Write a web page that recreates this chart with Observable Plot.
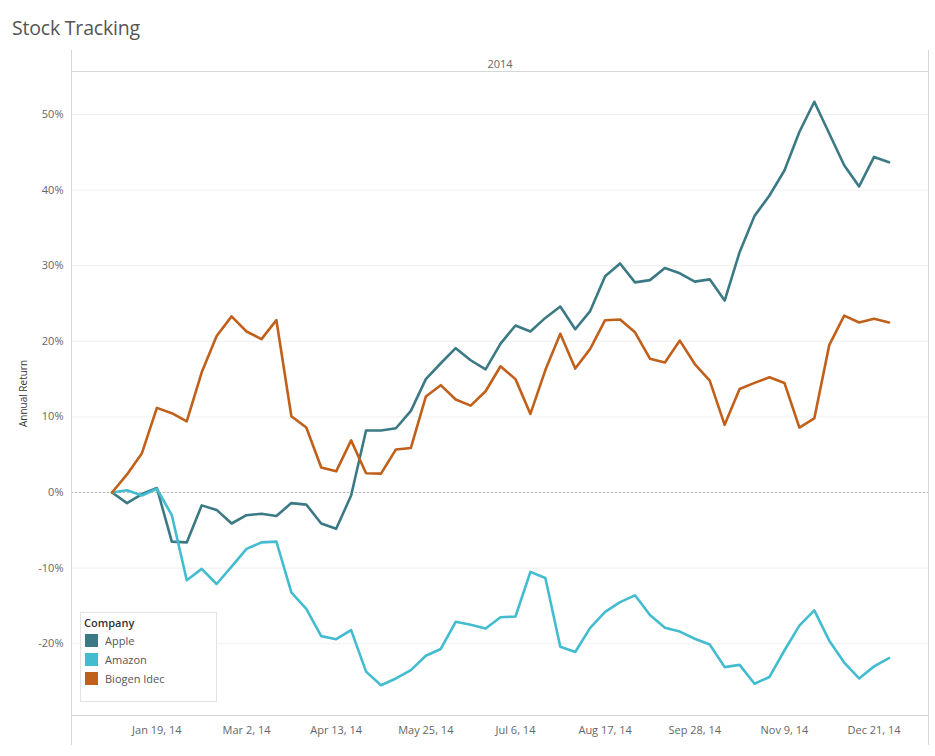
<!DOCTYPE html>
<html>
<head>
<meta charset="utf-8">
<script src="https://cdn.jsdelivr.net/npm/d3@7"></script>
<script src="https://cdn.jsdelivr.net/npm/@observablehq/plot@0.6"></script>
<style>
  html, body { margin: 0; padding: 0; background: #fff; }
  body { width: 935px; height: 756px; position: relative; overflow: hidden; font-family: "Open Sans", sans-serif; }
  #title { position: absolute; left: 12px; top: 14px; font-size: 19.5px; color: #555; font-weight: 400; letter-spacing: -0.2px; }
  #chart { position: absolute; left: 0; top: 50px; }
  #legend { position: absolute; left: 80px; top: 612px; width: 137px; height: 90px; border: 1px solid #e2e2e2; background: #fff; box-sizing: border-box; font-size: 11px; color: #555; }
  #legend .hd { position: absolute; left: 3px; top: 2px; font-weight: 600; color: #333; }
  #legend .row { position: absolute; left: 4px; height: 14px; line-height: 14px; }
  #legend .sw { display: inline-block; width: 13px; height: 13px; vertical-align: top; margin-right: 7px; }
</style>
</head>
<body>
<div id="title">Stock Tracking</div>
<div id="chart"></div>
<div id="legend"></div>
<script>
const companies = ["Apple", "Amazon", "Biogen Idec"];
const colors = ["#3b7a84", "#43bcd0", "#c0601b"];
const weekStart = "2013-12-29";
const weekEnd = "2014-12-29";
const yearLabel = "2014";
const xTickDates = ["2014-01-19", "2014-03-02", "2014-04-13", "2014-05-25", "2014-07-06", "2014-08-17", "2014-09-28", "2014-11-09", "2014-12-21"];
const yTicks = [-20, -10, 0, 10, 20, 30, 40, 50];

const apple = [0, -1.4, -0.2, 0.6, -6.5, -6.6, -1.7, -2.3, -4.1, -3.0, -2.8, -3.1, -1.4, -1.6, -4.1, -4.8,
  -0.4, 8.2, 8.2, 8.5, 10.8, 15.0, 17.1, 19.1, 17.5, 16.3, 19.7, 22.1, 21.3, 23.1, 24.6, 21.6, 24.0,
  28.6, 30.3, 27.8, 28.1, 29.7, 29.0, 27.9, 28.2, 25.4, 31.8, 36.6, 39.3, 42.6, 47.7, 51.7, 47.5, 43.3, 40.5, 44.4, 43.7];
const amazon = [0, 0.3, -0.4, 0.5, -3.0, -11.6, -10.1, -12.1, -9.8, -7.45, -6.6, -6.5, -13.2, -15.4, -19.0, -19.4,
  -18.2, -23.7, -25.5, -24.6, -23.5, -21.6, -20.7, -17.1, -17.5, -18.0, -16.5, -16.4, -10.5, -11.3, -20.4, -21.1, -17.9,
  -15.8, -14.5, -13.6, -16.2, -17.9, -18.4, -19.35, -20.1, -23.1, -22.8, -25.3, -24.4, -20.9, -17.6, -15.6, -19.6, -22.5, -24.6, -23.0, -21.9];
const biogen = [0, 2.4, 5.2, 11.2, 10.5, 9.4, 15.9, 20.7, 23.3, 21.3, 20.3, 22.8, 10.1, 8.6, 3.3, 2.8,
  6.9, 2.55, 2.5, 5.7, 5.9, 12.7, 14.2, 12.3, 11.5, 13.4, 16.7, 15.0, 10.4, 16.2, 21.0, 16.4, 19.0,
  22.8, 22.9, 21.2, 17.7, 17.2, 20.1, 17.0, 14.8, 8.95, 13.7, 14.5, 15.25, 14.5, 8.6, 9.8, 19.5, 23.4, 22.5, 23.0, 22.5];

const weeks = d3.utcWeek.range(new Date(weekStart), new Date(weekEnd));
const seriesValues = [apple, amazon, biogen];
const data = [];
companies.forEach((c, k) => {
  seriesValues[k].forEach((v, i) => data.push({company: c, date: weeks[i], value: v}));
});

const W = 935, H = 706;
const fmt = d3.utcFormat("%b %-d, %y");

const chart = Plot.plot({
  width: W,
  height: H,
  marginTop: 21,
  marginBottom: 41,
  marginLeft: 71,
  marginRight: 7,
  style: {fontFamily: "Open Sans, sans-serif", fontSize: "11px", color: "#666", background: "#fff"},
  x: {type: "utc", domain: [new Date("2013-12-10T00:00Z"), new Date("2015-01-15T12:00Z")]},
  y: {domain: [-29.5, 55.7]},
  color: {domain: companies, range: colors},
  marks: [
    Plot.gridY(yTicks, {stroke: "#efefef", strokeOpacity: 1}),
    Plot.ruleY([0], {stroke: "#b5b5b5", strokeDasharray: "2,2", strokeWidth: 1}),
    Plot.frame({stroke: "#d6d6d6"}),
    Plot.axisY(yTicks, {tickSize: 0, tickPadding: 8, tickFormat: d => d + "%", label: "Annual Return",
      labelAnchor: "center", labelArrow: "none", labelOffset: 52, fill: "#666", fontSize: 11}),
    Plot.axisX(xTickDates.map(d => new Date(d)), {tickSize: 0, tickPadding: 11, tickFormat: fmt, label: null, fill: "#666", fontSize: 11}),
    Plot.text([yearLabel], {frameAnchor: "top", dy: -11, fill: "#666", fontSize: 11}),
    Plot.line(data, {x: "date", y: "value", z: "company", stroke: "company", strokeWidth: 2.6, strokeLinejoin: "round", strokeLinecap: "round"})
  ]
});

// extend the pane borders above and below the plot frame (Tableau-style panel lines)
const svg = d3.select(chart);
svg.selectAll("[aria-label='y-axis label'] text").attr("fill", "#333").style("font-size", "10px");
const border = svg.append("g").attr("stroke", "#d6d6d6").attr("fill", "none");
border.append("line").attr("x1", 71.5).attr("x2", 71.5).attr("y1", 0).attr("y2", 695);
border.append("line").attr("x1", 928.5).attr("x2", 928.5).attr("y1", 0).attr("y2", 695);
document.getElementById("chart").appendChild(chart);

// legend
const lg = document.getElementById("legend");
const hd = document.createElement("div");
hd.className = "hd"; hd.textContent = "Company"; lg.appendChild(hd);
companies.forEach((c, k) => {
  const r = document.createElement("div");
  r.className = "row";
  r.style.top = (21 + k * 19) + "px";
  r.innerHTML = `<span class="sw" style="background:${colors[k]}"></span>${c}`;
  lg.appendChild(r);
});
</script>
</body>
</html>
